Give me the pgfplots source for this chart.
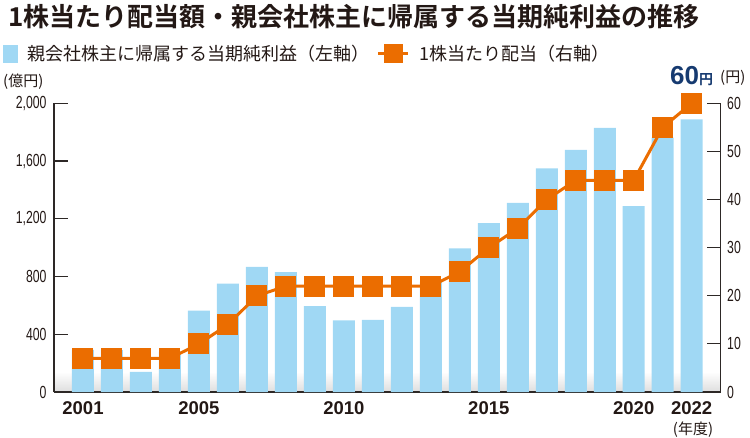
\documentclass[border=0pt]{standalone}
\usepackage{pgfplots}
\pgfplotsset{compat=1.18}
\usepackage{fontspec}
\setmainfont{Liberation Sans}
\newfontfamily\cjk[BoldFont={Noto Sans CJK JP Bold}]{Noto Sans CJK JP}
\newfontfamily\cond[FakeStretch=0.7]{Liberation Sans}
\newfontfamily\numb{Liberation Sans}
\definecolor{barblue}{RGB}{160,216,244}
\definecolor{mkorange}{RGB}{235,109,0}
\definecolor{navy}{RGB}{22,58,112}
\definecolor{textdark}{RGB}{35,24,21}
\definecolor{axisgray}{RGB}{45,40,38}

\pgfplotsset{
  common/.style={
    scale only axis, width=666.7pt, height=288.7pt,
    xmin=2000, xmax=2023, ymin=0,
    axis line style={-, draw=axisgray, line width=1.2pt},
    every outer x axis line/.append style={-},
    every outer y axis line/.append style={-},
    tick align=inside, major tick length=14pt,
    ytick style={draw=axisgray, line width=1.2pt},
    xtick style={draw=none},
    /pgf/number format/assume math mode=true,
    scaled y ticks=false,
    yticklabel style={font=\cond\fontsize{17.5}{17.5}\selectfont, text=textdark},
  },
}

\begin{document}
\begin{tikzpicture}
\path[use as bounding box] (-54pt,-45pt) rectangle (696pt,392pt);

% soft grey band along the base, behind the bars
\begin{axis}[common, ymax=2000, hide axis]
\shade[bottom color=black!13, top color=white] (axis cs:2000,0) rectangle (axis cs:2023,140);
\end{axis}

% profit bars, left axis
\begin{axis}[common,
  ymax=2000, ytick={0,400,...,2000},
  axis x line*=bottom, axis y line*=left,
  yticklabel style={xshift=-4pt},
  xtick={2001,2005,2010,2015,2020,2022},
  xticklabels={2001,2005,2010,2015,2020,2022},
  xticklabel style={font=\numb\bfseries\fontsize{18.5}{18.5}\selectfont, text=textdark, yshift=-6pt},
]
\addplot[ybar, bar width=22pt, fill=barblue, draw=none] coordinates {
(2001,291)(2002,290)(2003,140)(2004,280)(2005,563)(2006,750)(2007,867)(2008,830)
(2009,595)(2010,496)(2011,500)(2012,590)(2013,765)(2014,995)(2015,1170)(2016,1310)
(2017,1550)(2018,1677)(2019,1829)(2020,1287)(2021,1762)(2022,1889)
};
\end{axis}

% dividend per share, right axis
\begin{axis}[common,
  ymax=60, ytick={0,10,...,60},
  axis x line=none, axis y line*=right,
  yticklabel style={xshift=3pt},
  legend columns=2,
  legend style={at={(axis description cs:-0.0765,1.1708)}, anchor=west,
    draw=none, fill=none, inner sep=0pt,
    font=\cjk\fontsize{18}{18}\selectfont, text=textdark,
    /tikz/every odd column/.append style={column sep=8pt},
    /tikz/every even column/.append style={column sep=5pt}},
  legend cell align=left,
]
\addlegendimage{legend image code/.code={\fill[barblue] (0pt,-8.5pt) rectangle (14pt,8.5pt);}}
\addlegendentry{親会社株主に帰属する当期純利益（左軸）}
\addplot[mkorange, line width=3pt, mark=square*, mark size=9pt,
  mark options={draw=none, fill=mkorange},
  legend image code/.code={\draw[mark repeat=2, mark phase=2, mark size=8pt]
    plot coordinates {(0pt,0pt)(15pt,0pt)(30pt,0pt)};}] coordinates {
(2001,7)(2002,7)(2003,7)(2004,7)(2005,10)(2006,14)(2007,20)(2008,22)
(2009,22)(2010,22)(2011,22)(2012,22)(2013,22)(2014,25)(2015,30)(2016,34)
(2017,40)(2018,44)(2019,44)(2020,44)(2021,55)(2022,60)
};
\addlegendentry{1株当たり配当（右軸）}
\end{axis}

% titles and units
\node[anchor=west, inner sep=0pt, text=textdark] at (-46pt,375pt)
  {\cjk\bfseries\fontsize{26}{26}\selectfont 1株当たり配当額・親会社株主に帰属する当期純利益の推移};
\node[anchor=west, inner sep=0pt, text=textdark] at (-51pt,310pt)
  {\cjk\fontsize{15}{15}\selectfont (億円)};
\node[anchor=west, inner sep=0pt, text=textdark] at (666pt,314pt)
  {\cjk\fontsize{15}{15}\selectfont (円)};
\node[anchor=base west, inner sep=0pt, text=navy] at (616pt,307pt)
  {\numb\bfseries\fontsize{26}{26}\selectfont 60\cjk\bfseries\fontsize{14}{14}\selectfont 円};
\node[text=textdark, inner sep=0pt] at (639pt,-38pt)
  {\cjk\fontsize{15}{15}\selectfont (年度)};
\end{tikzpicture}
\end{document}
